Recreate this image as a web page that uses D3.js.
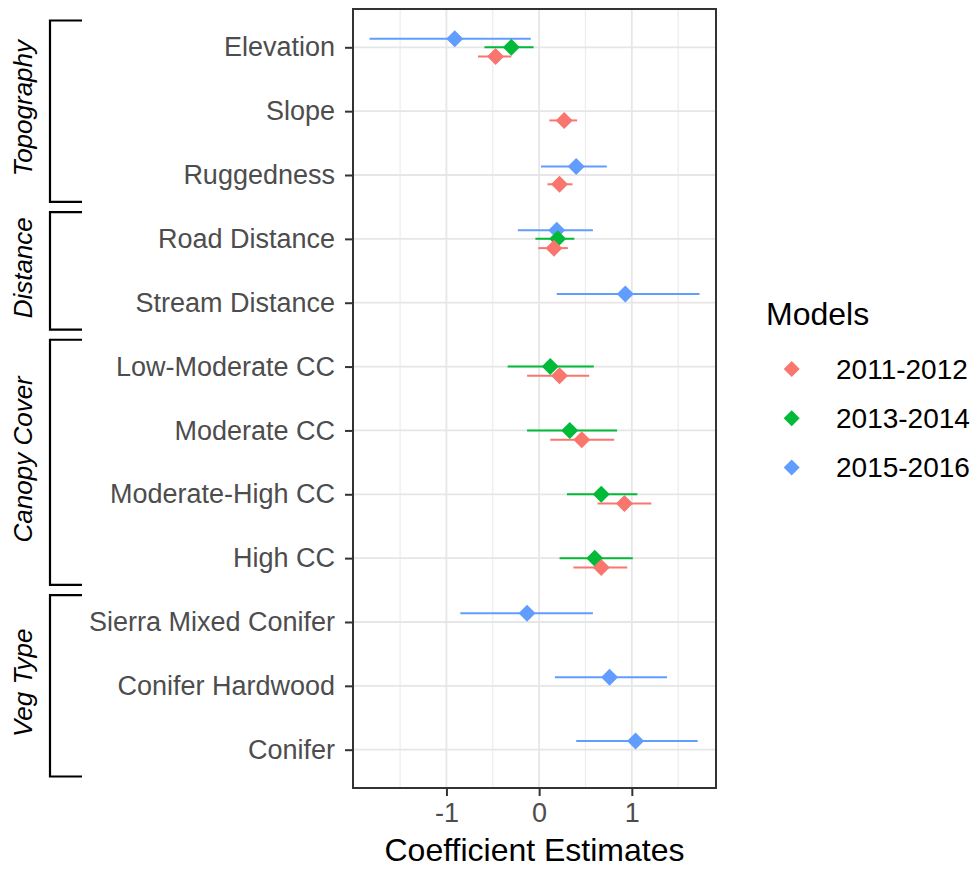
<!DOCTYPE html>
<html>
<head>
<meta charset="utf-8">
<script src="https://cdn.jsdelivr.net/npm/d3@7"></script>
<style>
  html, body { margin: 0; padding: 0; background: #fff; }
  svg { display: block; font-family: "Liberation Sans", Arial, sans-serif; }
</style>
</head>
<body>
<svg id="chart" width="977" height="869"></svg>
<script>
// Predictor variables, top to bottom
const categories = [
  "Elevation", "Slope", "Ruggedness", "Road Distance", "Stream Distance",
  "Low-Moderate CC", "Moderate CC", "Moderate-High CC", "High CC",
  "Sierra Mixed Conifer", "Conifer Hardwood", "Conifer"
];

const models = ["2011-2012", "2013-2014", "2015-2016"];

// Coefficient estimates and interval bounds per model (null = not in model)
const est2011 = [-0.47, 0.27, 0.22, 0.16, null, 0.22, 0.46, 0.92, 0.67, null, null, null];
const lo2011  = [-0.66, 0.11, 0.09, -0.01, null, -0.13, 0.12, 0.63, 0.37, null, null, null];
const hi2011  = [-0.30, 0.41, 0.36, 0.31, null, 0.54, 0.81, 1.21, 0.95, null, null, null];

const est2013 = [-0.30, null, null, 0.20, null, 0.12, 0.33, 0.67, 0.60, null, null, null];
const lo2013  = [-0.59, null, null, -0.04, null, -0.34, -0.13, 0.30, 0.22, null, null, null];
const hi2013  = [-0.06, null, null, 0.38, null, 0.59, 0.84, 1.06, 1.01, null, null, null];

const est2015 = [-0.91, null, 0.40, 0.19, 0.93, null, null, null, null, -0.13, 0.76, 1.04];
const lo2015  = [-1.83, null, 0.02, -0.23, 0.19, null, null, null, null, -0.85, 0.17, 0.40];
const hi2015  = [-0.09, null, 0.73, 0.58, 1.73, null, null, null, null, 0.58, 1.38, 1.71];

// Variable groups shown as brackets on the left
const groupNames  = ["Topography", "Distance", "Canopy Cover", "Veg Type"];
const groupFirst  = ["Elevation", "Road Distance", "Low-Moderate CC", "Sierra Mixed Conifer"];
const groupLast   = ["Ruggedness", "Stream Distance", "High CC", "Conifer"];

const xTicks = [-1, 0, 1];
const xMinorTicks = [-1.5, -0.5, 0.5, 1.5];

// ---- styling ----
const colors = ["#F8766D", "#00BA38", "#619CFF"];
const nudge = [0.145, 0, -0.135];   // vertical offset of each model, in row steps
const panel = { left: 353, right: 716, top: 9, bottom: 788 };

const seriesEst = [est2011, est2013, est2015];
const seriesLo  = [lo2011, lo2013, lo2015];
const seriesHi  = [hi2011, hi2013, hi2015];

const rows = [];
models.forEach((m, mi) => {
  categories.forEach((c, ci) => {
    if (seriesEst[mi][ci] != null) {
      rows.push({ model: m, mi, cat: c, est: seriesEst[mi][ci], lo: seriesLo[mi][ci], hi: seriesHi[mi][ci] });
    }
  });
});

const svg = d3.select("#chart");

// x scale with 5% expansion on each side of the data
const allLo = d3.min(rows, d => d.lo), allHi = d3.max(rows, d => d.hi);
const pad = (allHi - allLo) * 0.05;
const x = d3.scaleLinear().domain([allLo - pad, allHi + pad]).range([panel.left, panel.right]);
const y = d3.scalePoint().domain(categories).range([panel.top, panel.bottom]).padding(0.6);
const step = y.step();
const color = d3.scaleOrdinal().domain(models).range(colors);

// panel background + grid
svg.append("rect").attr("x", panel.left).attr("y", panel.top)
  .attr("width", panel.right - panel.left).attr("height", panel.bottom - panel.top)
  .attr("fill", "#fff");

const grid = svg.append("g");
grid.selectAll(".minor").data(xMinorTicks).join("line")
  .attr("x1", d => x(d)).attr("x2", d => x(d))
  .attr("y1", panel.top).attr("y2", panel.bottom)
  .attr("stroke", "#ececec").attr("stroke-width", 1.2);
grid.selectAll(".majx").data(xTicks).join("line")
  .attr("x1", d => x(d)).attr("x2", d => x(d))
  .attr("y1", panel.top).attr("y2", panel.bottom)
  .attr("stroke", "#e6e6e6").attr("stroke-width", 1.8);
grid.selectAll(".majy").data(categories).join("line")
  .attr("x1", panel.left).attr("x2", panel.right)
  .attr("y1", d => y(d)).attr("y2", d => y(d))
  .attr("stroke", "#e6e6e6").attr("stroke-width", 1.8);

// draw order: later models first so earlier ones sit on top
const ordered = rows.slice().sort((a, b) => b.mi - a.mi);
const yPos = d => y(d.cat) + nudge[d.mi] * step;

svg.append("g").selectAll("line").data(ordered).join("line")
  .attr("x1", d => x(d.lo)).attr("x2", d => x(d.hi))
  .attr("y1", yPos).attr("y2", yPos)
  .attr("stroke", d => color(d.model)).attr("stroke-width", 2);

const diamond = (cx, cy, r) => `M${cx},${cy - r}L${cx + r},${cy}L${cx},${cy + r}L${cx - r},${cy}Z`;

svg.append("g").selectAll("path").data(ordered).join("path")
  .attr("d", d => diamond(x(d.est), yPos(d), 8.5))
  .attr("fill", d => color(d.model));

// panel border
svg.append("rect").attr("x", panel.left).attr("y", panel.top)
  .attr("width", panel.right - panel.left).attr("height", panel.bottom - panel.top)
  .attr("fill", "none").attr("stroke", "#333").attr("stroke-width", 2);

// axes
const xAxis = svg.append("g").attr("transform", `translate(0,${panel.bottom})`)
  .call(d3.axisBottom(x).tickValues(xTicks).tickSize(8).tickPadding(6).tickFormat(d3.format("d")));
xAxis.select(".domain").remove();
xAxis.selectAll(".tick line").attr("stroke", "#333").attr("stroke-width", 2);
xAxis.selectAll(".tick text").attr("fill", "#4d4d4d").attr("font-size", 27)
  .attr("font-family", "Liberation Sans, Arial, sans-serif").attr("dy", "0.75em")
  .text(d => d < 0 ? "-" + Math.abs(d) : d);

const yAxis = svg.append("g").attr("transform", `translate(${panel.left},0)`)
  .call(d3.axisLeft(y).tickSize(8).tickPadding(10));
yAxis.select(".domain").remove();
yAxis.selectAll(".tick line").attr("stroke", "#333").attr("stroke-width", 2);
yAxis.selectAll(".tick text").attr("fill", "#4d4d4d").attr("font-size", 27)
  .attr("font-family", "Liberation Sans, Arial, sans-serif");

// x axis title
svg.append("text").attr("x", (panel.left + panel.right) / 2).attr("y", 861)
  .attr("text-anchor", "middle").attr("font-size", 32).attr("fill", "#000")
  .text("Coefficient Estimates");

// group brackets
const bracketX = 50, bracketTick = 82, ext = 0.42 * step;
groupNames.forEach((g, i) => {
  const y0 = y(groupFirst[i]) - ext, y1 = y(groupLast[i]) + ext;
  svg.append("path")
    .attr("d", `M${bracketTick},${y0}H${bracketX}V${y1}H${bracketTick}`)
    .attr("fill", "none").attr("stroke", "#000").attr("stroke-width", 2.2);
  svg.append("text")
    .attr("transform", `translate(32,${(y0 + y1) / 2 - 3}) rotate(-90)`)
    .attr("text-anchor", "middle").attr("font-size", 26).attr("font-style", "italic")
    .attr("fill", "#000").text(g);
});

// legend
const legend = svg.append("g");
legend.append("text").attr("x", 766).attr("y", 325).attr("font-size", 32).attr("fill", "#000").text("Models");
models.forEach((m, i) => {
  const cy = 369 + i * 49.2;
  legend.append("path").attr("d", diamond(791.7, cy, 8)).attr("fill", color(m));
  legend.append("text").attr("x", 836).attr("y", cy + 10).attr("font-size", 28).attr("fill", "#000").text(m);
});
</script>
</body>
</html>
